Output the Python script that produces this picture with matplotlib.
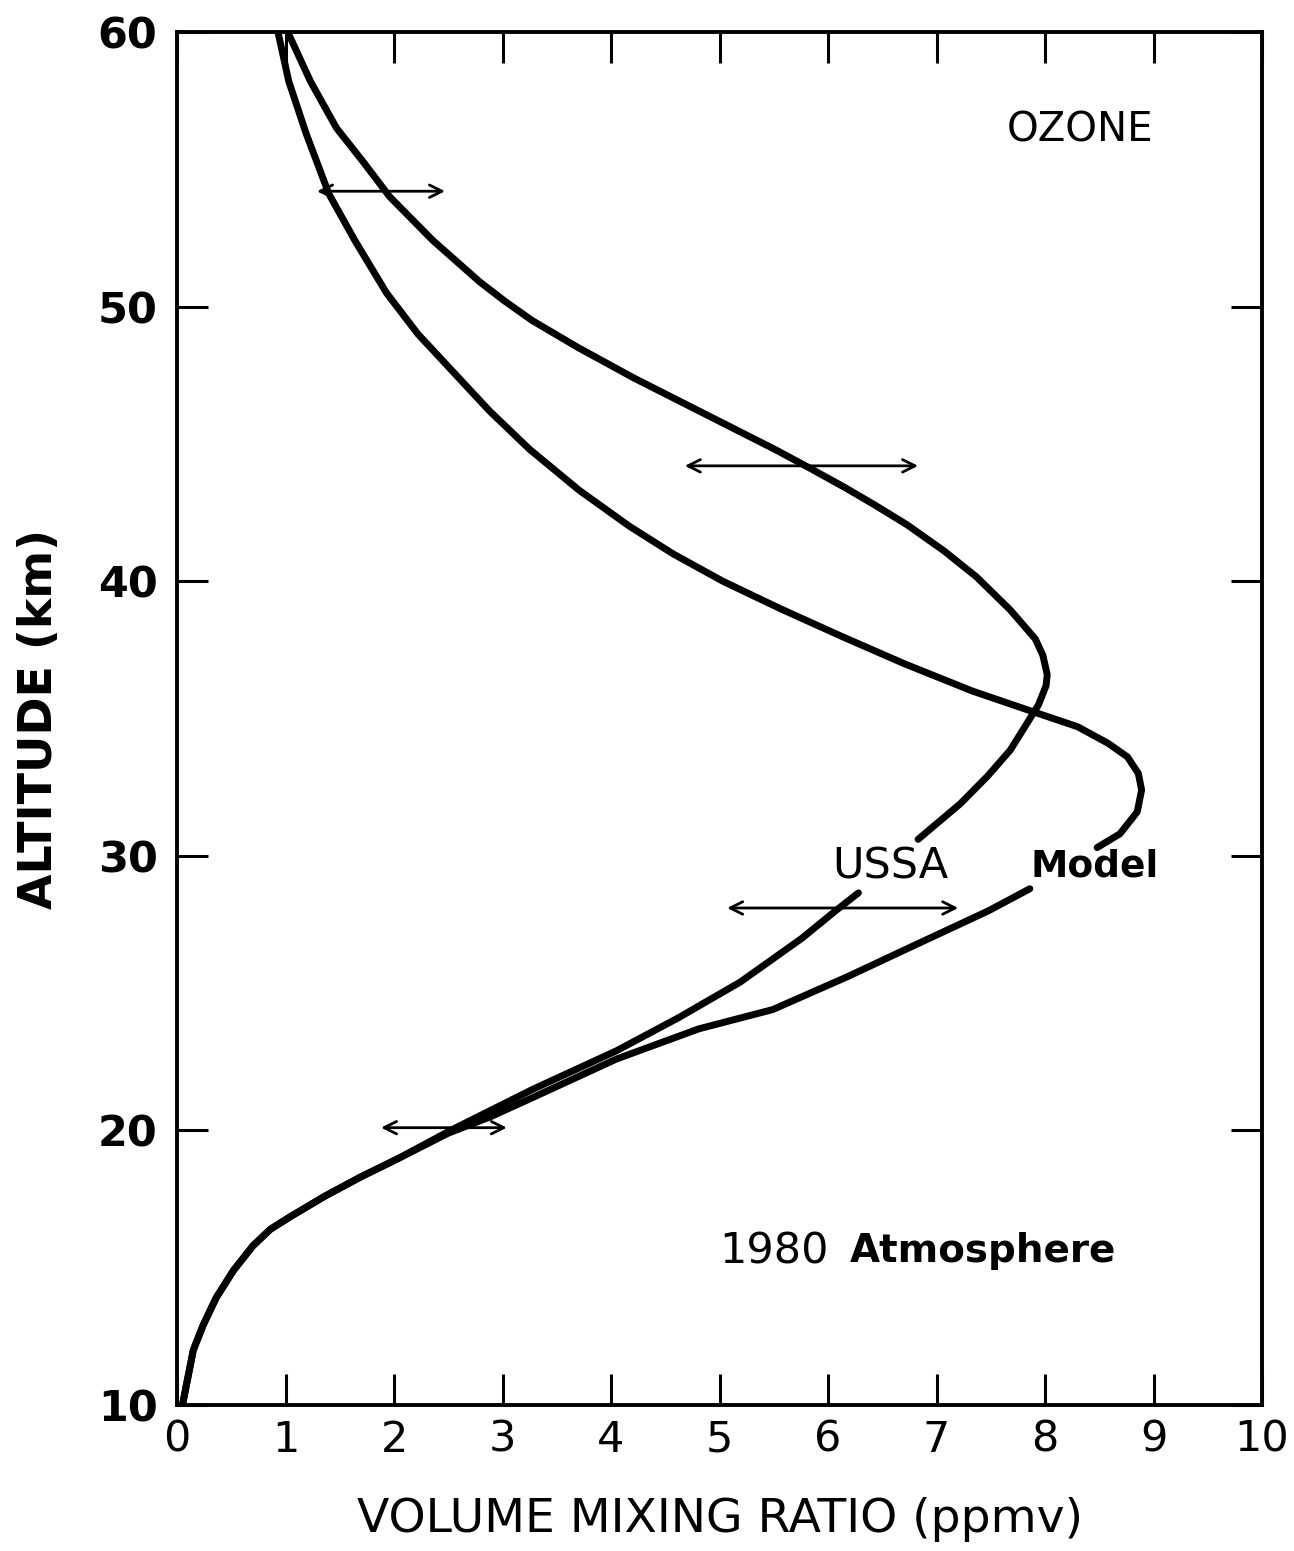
import matplotlib
matplotlib.use('Agg')
import matplotlib.pyplot as plt

# model profile, upper branch (above the "Model" label)
model_hi_x = [0.93, 1.03, 1.19, 1.40, 1.64, 1.93, 2.22, 2.55, 2.88, 3.25, 3.71, 4.17, 4.57,
              5.03, 5.56, 6.12, 6.70, 7.33, 7.85, 8.30, 8.58, 8.76, 8.86, 8.89, 8.85, 8.69, 8.48]
model_hi_z = [60.0, 58.2, 56.3, 54.1, 52.4, 50.5, 49.0, 47.6, 46.2, 44.8, 43.3, 42.0, 41.0,
              40.0, 39.0, 38.0, 37.0, 36.0, 35.3, 34.7, 34.1, 33.6, 33.0, 32.4, 31.6, 30.8, 30.3]
# model profile, lower branch (below the label)
model_lo_x = [7.86, 7.48, 6.72, 6.18, 5.49, 4.81, 4.05, 3.28, 2.89, 2.50, 2.05, 1.69, 1.36, 1.04,
              0.86, 0.70, 0.52, 0.36, 0.24, 0.15, 0.05]
model_lo_z = [28.8, 28.0, 26.6, 25.6, 24.4, 23.7, 22.6, 21.2, 20.5, 19.9, 19.0, 18.3, 17.6, 16.85,
              16.4, 15.8, 14.9, 13.9, 12.9, 12.0, 10.0]

# USSA profile
ussa_hi_x = [1.02, 1.23, 1.47, 1.71, 1.96, 2.36, 2.79, 3.02, 3.27, 3.70, 4.21, 4.66, 5.11, 5.51,
             5.84, 6.16, 6.42, 6.73, 7.07, 7.37, 7.68, 7.91, 7.98, 8.02, 8.01, 7.94, 7.83, 7.68,
             7.47, 7.22, 6.83]
ussa_hi_z = [60.0, 58.2, 56.5, 55.3, 54.0, 52.4, 50.9, 50.2, 49.5, 48.5, 47.4, 46.5, 45.6, 44.8,
             44.1, 43.4, 42.8, 42.05, 41.1, 40.15, 38.95, 37.9, 37.3, 36.6, 36.2, 35.5, 34.8, 33.85,
             32.9, 31.9, 30.6]
ussa_lo_x = [6.28, 6.07, 5.76, 5.19, 4.62, 4.05, 3.28, 2.52, 2.05, 1.69, 1.36, 1.04, 0.86, 0.70,
             0.52, 0.36, 0.24, 0.15, 0.05]
ussa_lo_z = [28.65, 28.0, 27.0, 25.4, 24.1, 22.9, 21.5, 20.0, 19.0, 18.3, 17.6, 16.85, 16.4, 15.8,
             14.9, 13.9, 12.9, 12.0, 10.0]

# horizontal uncertainty arrows
arrow_z = [54.2, 44.2, 28.1, 20.1]
arrow_lo = [1.29, 4.68, 5.07, 1.88]
arrow_hi = [2.47, 6.83, 7.20, 3.04]

xticks = list(range(0, 11))
yticks = [10, 20, 30, 40, 50, 60]

fig = plt.figure(figsize=(12.94, 15.51), dpi=100)
fig.patch.set_facecolor('white')
ax = fig.add_axes([0.1368, 0.0941, 0.8385, 0.8853])

lw = 5.0
style = dict(color='black', lw=lw, solid_capstyle='round', solid_joinstyle='round')
ax.plot(model_hi_x, model_hi_z, **style)
ax.plot(model_lo_x, model_lo_z, **style)
ax.plot(ussa_hi_x, ussa_hi_z, **style)
ax.plot(ussa_lo_x, ussa_lo_z, **style)

for z, a, b in zip(arrow_z, arrow_lo, arrow_hi):
    ax.annotate('', xy=(b, z), xytext=(a, z),
                arrowprops=dict(arrowstyle='<->,head_length=0.9,head_width=0.45',
                                color='black', lw=2.0, shrinkA=0, shrinkB=0))

ax.set_xlim(0, 10)
ax.set_ylim(10, 60)
ax.set_xticks(xticks)
ax.set_yticks(yticks)
ax.set_xticklabels([str(v) for v in xticks], fontsize=31)
ax.set_yticklabels([str(v) for v in yticks], fontsize=31, fontweight='bold')
ax.tick_params(axis='both', direction='in', length=22, width=2.2,
               top=True, right=True)
ax.tick_params(axis='x', pad=10)
ax.tick_params(axis='y', pad=14)
for sp in ax.spines.values():
    sp.set_linewidth(2.8)

ax.set_xlabel('VOLUME MIXING RATIO (ppmv)', fontsize=34, labelpad=26)
ax.set_ylabel('ALTITUDE (km)', fontsize=33, fontweight='bold', labelpad=26)

ax.text(8.32, 56.4, 'OZONE', fontsize=29, ha='center', va='center')
ax.text(6.57, 29.6, 'USSA', fontsize=31, ha='center', va='center')
ax.text(8.46, 29.6, 'Model', fontsize=27, ha='center', va='center', fontweight='bold')
ax.text(5.0, 15.6, '1980', fontsize=31, ha='left', va='center')
ax.text(6.2, 15.6, 'Atmosphere', fontsize=28, ha='left', va='center', fontweight='bold')

fig.savefig('out.png', dpi=100, facecolor='white')
